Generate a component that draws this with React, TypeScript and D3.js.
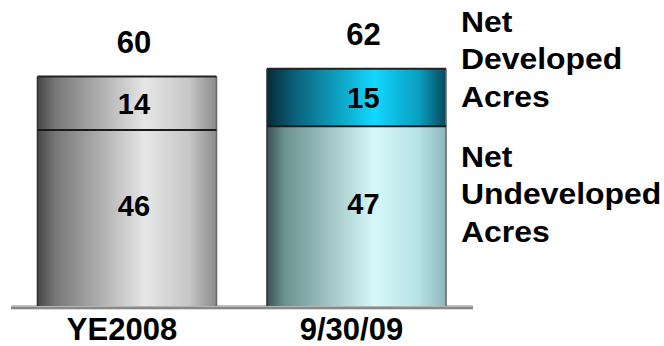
import React from "react";
import * as d3 from "d3";

const categories = ["YE2008", "9/30/09"];
const undeveloped = [46, 47];
const developed = [14, 15];
const totals = [60, 62];
const legendDeveloped = ["Net", "Developed", "Acres"];
const legendUndeveloped = ["Net", "Undeveloped", "Acres"];

const W = 664;
const H = 346;
const FONT = "'Liberation Sans', Arial, Helvetica, sans-serif";

export default function App() {
  const x = d3.scaleBand<string>().domain(categories).range([37.5, 446]).paddingInner(0.22).paddingOuter(0);
  const y = d3.scaleLinear().domain([0, 80]).range([306, 0]);
  const bw = x.bandwidth();

  const grads = [
    {
      bottom: "gBot0",
      top: "gTop0",
      botStops: [["0", "#474747"], ["0.1", "#777"], ["0.6", "#e6e6e6"], ["0.85", "#c6c6c6"], ["1", "#8a8a8a"]],
      topStops: [["0", "#474747"], ["0.1", "#777"], ["0.6", "#e6e6e6"], ["0.85", "#c6c6c6"], ["1", "#8a8a8a"]],
    },
    {
      bottom: "gBot1",
      top: "gTop1",
      botStops: [["0", "#3c5454"], ["0.1", "#6c9292"], ["0.6", "#d6f8fa"], ["0.85", "#b6e2e6"], ["1", "#8cb6ba"]],
      topStops: [["0", "#052a34"], ["0.15", "#0a5f78"], ["0.6", "#12d8ff"], ["0.85", "#0a9ec0"], ["1", "#06485a"]],
    },
  ];

  return (
    <svg width={W} height={H} style={{ position: "absolute", left: 0, top: 0, background: "#fff" }}>
      <defs>
        {grads.map((g) => (
          <React.Fragment key={g.bottom}>
            <linearGradient id={g.bottom} x1="0" x2="1" y1="0" y2="0">
              {g.botStops.map(([o, c]) => (
                <stop key={o} offset={o} stopColor={c} />
              ))}
            </linearGradient>
            <linearGradient id={g.top} x1="0" x2="1" y1="0" y2="0">
              {g.topStops.map(([o, c]) => (
                <stop key={o} offset={o} stopColor={c} />
              ))}
            </linearGradient>
          </React.Fragment>
        ))}
      </defs>

      {/* baseline */}
      <rect x={11} y={y(0) - 1} width={462} height={1.5} fill="#c4c4c4" />
      <rect x={11} y={y(0) + 0.5} width={462} height={2.8} fill="#888" />

      {categories.map((c, i) => {
        const x0 = x(c) as number;
        const yMid = y(undeveloped[i]);
        const yTop = y(undeveloped[i] + developed[i]);
        const cx = x0 + bw / 2;
        return (
          <g key={c}>
            <rect x={x0} y={yMid} width={bw} height={y(0) - yMid} fill={`url(#${grads[i].bottom})`} />
            <rect x={x0} y={yTop} width={bw} height={yMid - yTop} fill={`url(#${grads[i].top})`} />
            {/* outline */}
            <line x1={x0} x2={x0} y1={yTop} y2={y(0)} stroke="#333" strokeWidth={1.6} />
            <line x1={x0 + bw} x2={x0 + bw} y1={yTop} y2={y(0)} stroke="#6a6a6a" strokeWidth={1.6} />
            <line x1={x0} x2={x0 + bw} y1={yTop} y2={yTop} stroke="#222" strokeWidth={2} />
            <line x1={x0} x2={x0 + bw} y1={yMid} y2={yMid} stroke="#1a1a1a" strokeWidth={2} />

            {/* labels */}
            <text x={cx + 7} y={yTop - 24} textAnchor="middle" fontFamily={FONT} fontWeight="bold" fontSize={31} fill="#000">
              {totals[i]}
            </text>
            <text x={cx + 7} y={(yTop + yMid) / 2 + 10.5} textAnchor="middle" fontFamily={FONT} fontWeight="bold" fontSize={29} fill="#000">
              {developed[i]}
            </text>
            <text x={cx + 7} y={(yMid + y(0)) / 2 - 2} textAnchor="middle" fontFamily={FONT} fontWeight="bold" fontSize={29} fill="#000">
              {undeveloped[i]}
            </text>
            <text x={cx - 5} y={340} textAnchor="middle" fontFamily={FONT} fontWeight="bold" fontSize={31} fill="#000">
              {c}
            </text>
          </g>
        );
      })}

      {/* legend */}
      <g transform="translate(461,0) scale(1.1,1)" fontFamily={FONT} fontWeight="bold" fontSize={29} fill="#000">
        {legendDeveloped.map((t, k) => (
          <text key={"d" + k} x={0} y={31.7 + k * 37.5}>
            {t}
          </text>
        ))}
        {legendUndeveloped.map((t, k) => (
          <text key={"u" + k} x={0} y={166.7 + k * 37.5}>
            {t}
          </text>
        ))}
      </g>
    </svg>
  );
}
